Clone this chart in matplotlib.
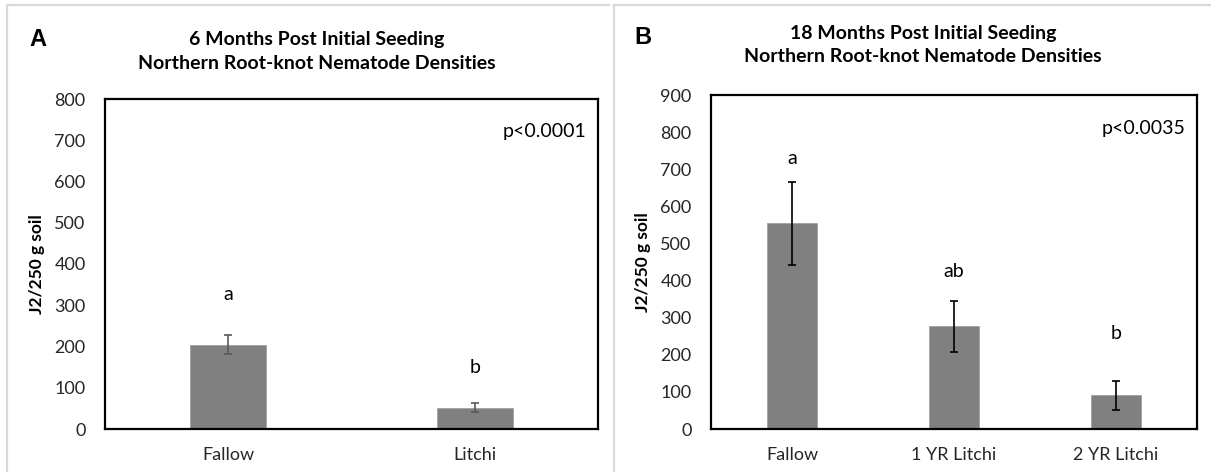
import matplotlib
matplotlib.use("Agg")
import matplotlib.pyplot as plt
from matplotlib.lines import Line2D

plt.rcParams['font.family'] = ['Lato', 'DejaVu Sans']

# Panel A data
cats_a = ["Fallow", "Litchi"]
means_a = [204, 52]
errs_a = [23, 10]
letters_a = ["a", "b"]
letter_y_a = [327, 148]
ymax_a, ystep_a = 800, 100

# Panel B data
cats_b = ["Fallow", "1 YR Litchi", "2 YR Litchi"]
means_b = [554, 277, 91]
errs_b = [111, 69, 39]
letters_b = ["a", "ab", "b"]
letter_y_b = [730, 424, 258]
ymax_b, ystep_b = 900, 100

W, H = 1211, 472
fig = plt.figure(figsize=(W / 100, H / 100), dpi=100)


def fx(px):
    return px / W


def fy(py):
    return 1 - py / H


def gray_line(x0, y0, x1, y1):
    fig.add_artist(Line2D([fx(x0), fx(x1)], [fy(y0), fy(y1)], transform=fig.transFigure,
                          color="#d9d9d9", linewidth=1.6))


def panel(ax, cats, means, errs, letters, letter_y, ymax, ystep, ecolor, ptext,
          title, title_x, title_y, tag, tag_x, tag_y):
    x = list(range(len(cats)))
    ax.bar(x, means, width=0.31, color="#808080", edgecolor="#a0a0a0", linewidth=0.6, zorder=2)
    ax.errorbar(x, means, yerr=errs, fmt="none", ecolor=ecolor, elinewidth=1.2,
                capsize=3.2, capthick=1.2, zorder=3)
    for xi, l, ly in zip(x, letters, letter_y):
        ax.text(xi, ly, l, ha="center", va="center", fontsize=14, color="#000000")
    ax.set_xlim(-0.5, len(cats) - 0.5)
    ax.set_ylim(0, ymax)
    ax.set_yticks(range(0, ymax + 1, ystep))
    ax.set_xticks(x)
    ax.set_xticklabels(cats)
    ax.tick_params(axis="both", length=0, labelsize=13, colors="#262626")
    ax.tick_params(axis="y", pad=14)
    ax.tick_params(axis="x", pad=13)
    for s in ax.spines.values():
        s.set_color("#000000")
        s.set_linewidth(1.6)
    ax.set_ylabel("J2/250 g soil", fontsize=12.5, fontweight="bold", labelpad=7)
    ax.text(0.977, 0.9, ptext, transform=ax.transAxes, ha="right", va="center", fontsize=14)
    fig.text(fx(title_x), fy(title_y), title, ha="center", va="center", fontsize=14,
             fontweight="bold", linespacing=1.45)
    fig.text(fx(tag_x), fy(tag_y), tag, ha="center", va="center", fontsize=17,
             fontweight="bold", family=["Liberation Sans", "DejaVu Sans"])


axA = fig.add_axes([fx(105), fy(429), fx(598 - 105), (429 - 99) / H])
panel(axA, cats_a, means_a, errs_a, letters_a, letter_y_a, ymax_a, ystep_a, "#595959",
      "p<0.0001", "6 Months Post Initial Seeding\nNorthern Root-knot Nematode Densities",
      317, 51.5, "A", 38, 39)

axB = fig.add_axes([fx(711), fy(429), fx(1197 - 711), (429 - 95) / H])
panel(axB, cats_b, means_b, errs_b, letters_b, letter_y_b, ymax_b, ystep_b, "#000000",
      "p<0.0035", "18 Months Post Initial Seeding\nNorthern Root-knot Nematode Densities",
      923, 45, "B", 643, 37)

# panel frames (light gray top and left edges)
gray_line(7, 4.7, 609, 4.7)
gray_line(7, 4.7, 7, 472)
gray_line(614, 4.7, 1211, 4.7)
gray_line(614, 4.7, 614, 472)

fig.savefig("out.png", dpi=100)
